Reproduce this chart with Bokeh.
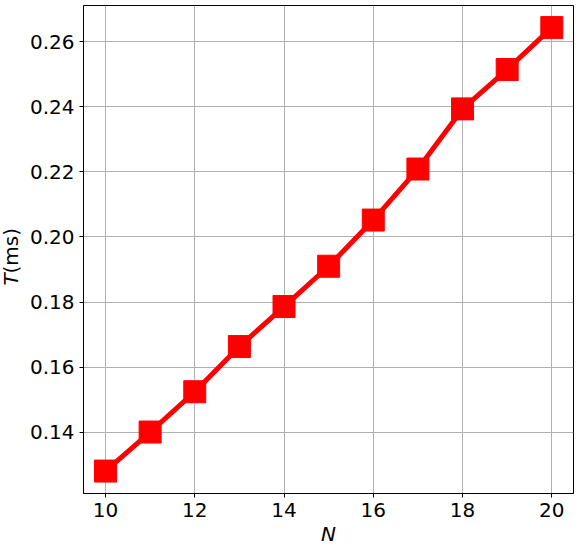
import numpy as np
from bokeh.plotting import figure
from bokeh.models import FixedTicker, Range1d, Label
from bokeh.layouts import row
from bokeh.embed import file_html
from bokeh.resources import INLINE

# Data
N = [10, 11, 12, 13, 14, 15, 16, 17, 18, 19, 20]
T_ms = [0.1280, 0.1400, 0.1524, 0.1663, 0.1786, 0.1910, 0.2052, 0.2209, 0.2394, 0.2515, 0.2644]

x_ticks = [10, 12, 14, 16, 18, 20]
y_ticks = [0.14, 0.16, 0.18, 0.20, 0.22, 0.24, 0.26]
y_tick_labels = ["0.14", "0.16", "0.18", "0.20", "0.22", "0.24", "0.26"]

FONT = "DejaVu Sans"
H = 546
L = 26  # width of the strip holding the y-axis title

# ---- strip with the y-axis title (italic T + upright (ms)) ----
lab = figure(width=L, height=H, output_backend="svg", toolbar_location=None,
             x_range=Range1d(0, L), y_range=Range1d(H, 0),
             x_axis_type=None, y_axis_type=None,
             min_border_left=0, min_border_right=0, min_border_top=0, min_border_bottom=0,
             frame_width=L, frame_height=H)
lab.outline_line_color = None
lab.background_fill_color = "white"
lab.border_fill_color = "white"
lab.grid.visible = False
lab.add_layout(Label(x=10, y=280, text="T", angle=np.pi / 2,
                     text_font=FONT, text_font_size="20px", text_font_style="italic",
                     text_align="left", text_baseline="middle", text_color="black"))
lab.add_layout(Label(x=10, y=268, text="(ms)", angle=np.pi / 2,
                     text_font=FONT, text_font_size="20px", text_font_style="normal",
                     text_align="left", text_baseline="middle", text_color="black"))

# ---- main plot ----
p = figure(width=550, height=H, output_backend="svg", toolbar_location=None,
           x_range=Range1d(9.507, 20.486), y_range=Range1d(0.1211, 0.2712),
           min_border_left=54, min_border_right=6, min_border_top=5, min_border_bottom=53,
           frame_width=490, frame_height=488)

p.background_fill_color = "white"
p.border_fill_color = "white"
p.outline_line_color = "black"
p.outline_line_width = 1

for g in (p.xgrid[0], p.ygrid[0]):
    g.grid_line_color = "#b0b0b0"
    g.grid_line_width = 1

p.xaxis.ticker = FixedTicker(ticks=x_ticks)
p.yaxis.ticker = FixedTicker(ticks=y_ticks)
p.yaxis.major_label_overrides = {t: l for t, l in zip(y_ticks, y_tick_labels)}

for ax in (p.xaxis[0], p.yaxis[0]):
    ax.major_label_text_font = FONT
    ax.major_label_text_font_size = "20px"
    ax.major_label_text_color = "black"
    ax.major_tick_out = 4
    ax.major_tick_in = 0
    ax.minor_tick_out = 0
    ax.minor_tick_in = 0
    ax.axis_line_color = "black"
    ax.major_tick_line_color = "black"
    ax.major_label_standoff = 5

p.xaxis.axis_label = "N"
p.xaxis.axis_label_text_font = FONT
p.xaxis.axis_label_text_font_size = "20px"
p.xaxis.axis_label_text_font_style = "italic"
p.xaxis.axis_label_text_color = "black"
p.xaxis.axis_label_standoff = 2

p.line(N, T_ms, line_color="red", line_width=5)
p.scatter(N, T_ms, marker="square", size=22, fill_color="red", line_color="red")

layout = row(lab, p, spacing=0)
open("out.html", "w").write(file_html(layout, INLINE))
